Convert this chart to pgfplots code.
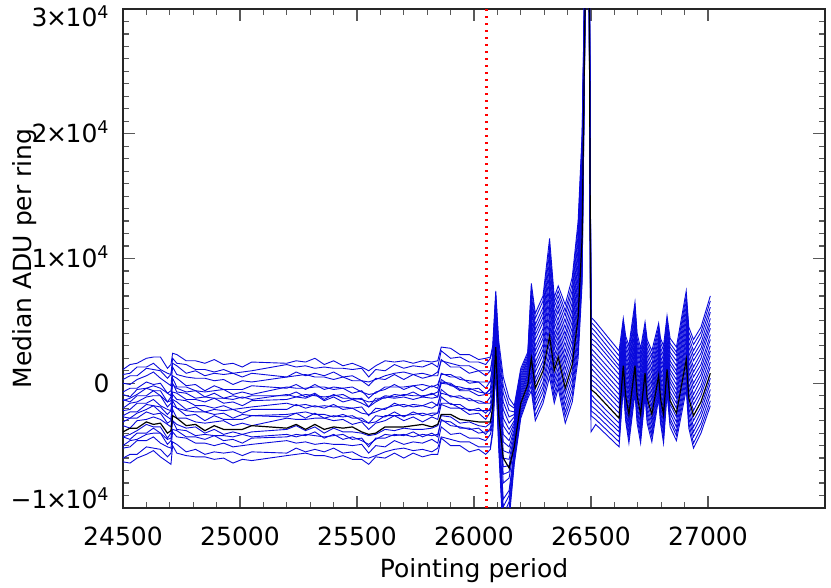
\documentclass[border=0pt]{standalone}
\usepackage{fontspec}
\setmainfont{DejaVu Sans}
\usepackage{pgfplots}
\pgfplotsset{compat=1.18}
\usepackage{pgfplotstable}

\definecolor{ringblue}{RGB}{10,10,220}
\definecolor{tickgray}{gray}{0.35}
\newcommand{\tenfour}[1]{#1\kern-0.7pt×\kern-0.7pt10\textsuperscript{4}}

% median ADU per ring, in units of 1000 ADU; b1..b20 = rings, k = highlighted ring
\pgfplotstableread{
x b1 b2 b3 b4 b5 b6 b7 b8 b9 b10 b11 b12 b13 b14 b15 b16 b17 b18 b19 b20 k
24500 1.1 0.7 0.3 0.0 -0.7 -0.9 -1.4 -1.3 -2.0 -2.2 -2.6 -2.7 -3.1 -3.4 -4.3 -4.3 -5.0 -5.2 -6.0 -6.3 -3.9
24530 1.5 0.8 0.6 -0.1 -0.4 -1.1 -1.2 -1.5 -1.6 -2.1 -2.3 -2.8 -2.8 -3.6 -4.1 -4.5 -4.6 -5.1 -5.7 -6.4 -3.6
24560 1.6 1.3 0.6 0.3 -0.4 -0.5 -0.9 -1.0 -1.5 -1.6 -2.3 -2.4 -2.8 -3.0 -3.8 -4.0 -4.5 -4.6 -5.7 -6.0 -3.6
24600 2.0 1.3 1.2 0.6 0.1 -0.4 -0.4 -1.0 -1.1 -1.6 -1.7 -2.1 -2.3 -2.9 -3.3 -4.0 -4.1 -4.6 -5.1 -5.7 -3.1
24630 2.1 1.6 1.1 0.9 -0.1 -0.2 -0.6 -0.6 -1.0 -1.3 -1.8 -1.8 -2.5 -2.7 -3.5 -3.6 -4.0 -4.3 -5.2 -5.4 -3.3
24660 2.1 1.1 1.0 0.4 0.0 -0.4 -0.6 -1.0 -1.0 -1.8 -1.9 -2.3 -2.4 -2.9 -3.5 -4.0 -4.0 -4.8 -5.3 -5.9 -3.2
24690 1.2 0.8 0.4 0.0 -0.8 -0.8 -1.5 -1.5 -1.9 -2.1 -2.5 -2.7 -3.2 -3.3 -4.4 -4.5 -4.9 -5.1 -5.9 -6.3 -4.0
24705 1.5 0.7 0.7 -0.2 -0.6 -1.0 -1.1 -1.4 -1.6 -2.2 -2.2 -2.9 -3.0 -3.5 -4.0 -4.4 -4.6 -5.2 -5.6 -6.5 -3.8
24712 2.4 2.0 1.6 1.3 0.6 0.4 -0.1 0.0 -0.7 -0.9 -1.3 -1.4 -1.8 -2.1 -3.0 -3.0 -3.7 -3.9 -4.7 -5.0 -2.6
24730 2.3 1.6 1.4 0.7 0.4 -0.3 -0.4 -0.7 -0.8 -1.3 -1.5 -2.0 -2.0 -2.8 -3.3 -3.7 -3.8 -4.3 -4.9 -5.6 -2.8
24770 1.8 1.5 0.8 0.5 -0.2 -0.3 -0.7 -0.8 -1.3 -1.4 -2.1 -2.2 -2.6 -2.8 -3.6 -3.8 -4.3 -4.4 -5.5 -5.8 -3.4
24810 1.8 1.1 1.0 0.4 -0.1 -0.6 -0.6 -1.2 -1.3 -1.8 -1.9 -2.3 -2.5 -3.1 -3.5 -4.2 -4.3 -4.8 -5.3 -5.9 -3.3
24850 1.6 1.1 0.6 0.4 -0.6 -0.7 -1.1 -1.1 -1.5 -1.8 -2.3 -2.3 -3.0 -3.2 -4.0 -4.1 -4.5 -4.8 -5.7 -5.9 -3.8
24890 1.9 0.9 0.8 0.2 -0.2 -0.6 -0.8 -1.2 -1.2 -2.0 -2.1 -2.5 -2.6 -3.1 -3.7 -4.2 -4.2 -5.0 -5.5 -6.1 -3.4
24930 1.5 1.1 0.7 0.3 -0.5 -0.5 -1.2 -1.2 -1.6 -1.8 -2.2 -2.4 -2.9 -3.0 -4.1 -4.2 -4.6 -4.8 -5.6 -6.0 -3.7
24970 1.6 0.8 0.8 -0.1 -0.5 -0.9 -1.0 -1.3 -1.5 -2.1 -2.1 -2.8 -2.9 -3.4 -3.9 -4.3 -4.5 -5.1 -5.5 -6.4 -3.7
25010 1.3 0.9 0.5 0.2 -0.5 -0.7 -1.2 -1.1 -1.8 -2.0 -2.4 -2.5 -2.9 -3.2 -4.1 -4.1 -4.8 -5.0 -5.8 -6.1 -3.7
25050 1.7 1.0 0.8 0.1 -0.2 -0.9 -1.0 -1.3 -1.4 -1.9 -2.1 -2.6 -2.6 -3.4 -3.9 -4.3 -4.4 -4.9 -5.5 -6.2 -3.4
25200 1.6 1.5 0.5 0.5 -0.4 -0.3 -1.0 -0.9 -1.3 -1.6 -2.1 -2.5 -2.7 -2.8 -3.7 -4.1 -4.3 -4.6 -5.6 -5.8 -3.6
25240 1.8 1.3 0.9 0.6 -0.1 -0.4 -0.7 -1.1 -1.1 -1.8 -1.7 -2.4 -2.4 -2.9 -3.4 -4.3 -4.1 -4.8 -5.2 -5.7 -3.3
25280 1.7 1.4 0.6 0.7 -0.5 -0.4 -1.1 -0.9 -1.2 -1.7 -2.0 -2.3 -2.8 -2.9 -3.8 -4.1 -4.2 -4.7 -5.5 -5.6 -3.7
25320 2.0 1.2 0.8 0.5 -0.1 -0.3 -0.8 -1.0 -0.9 -1.9 -1.8 -2.5 -2.4 -2.8 -3.5 -4.2 -3.9 -4.9 -5.3 -5.8 -3.3
25360 1.5 1.3 0.6 0.5 -0.5 -0.3 -1.3 -1.1 -1.4 -1.8 -2.0 -2.5 -2.8 -2.8 -4.0 -4.3 -4.4 -4.8 -5.5 -5.8 -3.7
25400 1.8 1.2 0.9 0.3 -0.3 -0.5 -0.9 -1.0 -1.1 -1.9 -1.7 -2.7 -2.6 -3.0 -3.6 -4.2 -4.1 -4.9 -5.2 -6.0 -3.5
25440 1.4 1.2 0.5 0.5 -0.4 -0.4 -1.2 -0.9 -1.5 -1.9 -2.1 -2.5 -2.7 -2.9 -3.9 -4.1 -4.5 -4.9 -5.6 -5.8 -3.6
25480 1.6 1.1 0.6 0.2 -0.3 -0.8 -1.2 -1.3 -1.3 -2.0 -2.0 -2.8 -2.6 -3.3 -3.9 -4.5 -4.3 -5.0 -5.5 -6.1 -3.5
25520 1.3 1.2 0.2 0.2 -0.7 -0.6 -1.3 -1.2 -1.6 -1.9 -2.4 -2.8 -3.0 -3.1 -4.0 -4.4 -4.6 -4.9 -5.9 -6.1 -3.9
25550 1.0 0.5 0.1 -0.2 -0.9 -1.2 -1.5 -1.9 -1.9 -2.6 -2.5 -3.2 -3.2 -3.7 -4.2 -5.1 -4.9 -5.6 -6.0 -6.5 -4.1
25580 1.4 1.1 0.3 0.4 -0.8 -0.7 -1.4 -1.2 -1.5 -2.0 -2.3 -2.6 -3.1 -3.2 -4.1 -4.4 -4.5 -5.0 -5.8 -5.9 -4.0
25620 1.8 1.0 0.6 0.3 -0.3 -0.5 -1.0 -1.2 -1.1 -2.1 -2.0 -2.7 -2.6 -3.0 -3.7 -4.4 -4.1 -5.1 -5.5 -6.0 -3.5
25660 1.7 1.5 0.8 0.7 -0.3 -0.1 -1.1 -0.9 -1.2 -1.6 -1.8 -2.3 -2.6 -2.6 -3.8 -4.1 -4.2 -4.6 -5.3 -5.6 -3.5
25700 1.8 1.2 0.9 0.3 -0.3 -0.5 -0.9 -1.0 -1.1 -1.9 -1.7 -2.7 -2.6 -3.0 -3.6 -4.2 -4.1 -4.9 -5.2 -6.0 -3.5
25740 1.6 1.4 0.7 0.7 -0.2 -0.2 -1.0 -0.7 -1.3 -1.7 -1.9 -2.3 -2.5 -2.7 -3.7 -3.9 -4.3 -4.7 -5.4 -5.6 -3.4
25780 1.8 1.3 0.8 0.4 -0.1 -0.6 -1.0 -1.1 -1.1 -1.8 -1.8 -2.6 -2.4 -3.1 -3.7 -4.3 -4.1 -4.8 -5.3 -5.9 -3.3
25820 1.7 1.6 0.6 0.6 -0.3 -0.2 -0.9 -0.8 -1.2 -1.5 -2.0 -2.4 -2.6 -2.7 -3.6 -4.0 -4.2 -4.5 -5.5 -5.7 -3.5
25845 1.8 1.3 0.9 0.6 -0.1 -0.4 -0.7 -1.1 -1.1 -1.8 -1.7 -2.4 -2.4 -2.9 -3.4 -4.3 -4.1 -4.8 -5.2 -5.7 -3.3
25860 2.9 2.6 1.8 1.9 0.7 0.8 0.1 0.3 0.0 -0.5 -0.8 -1.1 -1.6 -1.7 -2.6 -2.9 -3.0 -3.5 -4.3 -4.4 -2.5
25900 2.8 2.0 1.6 1.3 0.7 0.5 0.0 -0.2 -0.1 -1.1 -1.0 -1.7 -1.6 -2.0 -2.7 -3.4 -3.1 -4.1 -4.5 -5.0 -2.5
25940 2.3 2.1 1.4 1.3 0.3 0.5 -0.5 -0.3 -0.6 -1.0 -1.2 -1.7 -2.0 -2.0 -3.2 -3.5 -3.6 -4.0 -4.7 -5.0 -2.9
25980 2.3 1.7 1.4 0.8 0.2 0.0 -0.4 -0.5 -0.6 -1.4 -1.2 -2.2 -2.1 -2.5 -3.1 -3.7 -3.6 -4.4 -4.7 -5.5 -3.0
26020 1.9 1.7 1.0 1.0 0.1 0.1 -0.7 -0.4 -1.0 -1.4 -1.6 -2.0 -2.2 -2.4 -3.4 -3.6 -4.0 -4.4 -5.1 -5.3 -3.1
26050 2.0 1.5 1.0 0.6 0.1 -0.4 -0.8 -0.9 -0.9 -1.6 -1.6 -2.4 -2.2 -2.9 -3.5 -4.1 -3.9 -4.6 -5.1 -5.7 -3.1
26070 2.1 2.0 1.0 1.0 0.1 0.2 -0.5 -0.4 -0.8 -1.1 -1.6 -2.0 -2.2 -2.3 -3.2 -3.6 -3.8 -4.1 -5.1 -5.3 -3.1
26080 3.0 2.7 2.3 2.0 1.6 1.3 0.9 0.6 0.2 -0.2 -0.5 -0.9 -1.2 -1.6 -2.3 -2.6 -3.0 -3.3 -3.7 -4.0 -1.9
26093 7.4 7.1 6.8 6.4 6.1 5.8 5.5 5.2 4.8 4.5 4.2 3.9 3.6 3.2 2.6 2.3 2.0 1.6 1.3 1.0 2.9
26105 3.5 3.1 2.7 2.2 1.8 1.4 1.0 0.5 0.1 -0.3 -0.8 -1.2 -1.6 -2.0 -2.9 -3.3 -3.7 -4.2 -4.6 -5.0 -2.5
26125 0.5 -0.2 -0.8 -1.5 -2.1 -2.8 -3.4 -4.1 -4.7 -5.4 -6.0 -6.7 -7.3 -8.0 -9.3 -9.9 -10.6 -11.2 -11.9 -12.5 -6.0
26150 -1.2 -1.7 -2.2 -2.7 -3.2 -3.7 -4.1 -4.6 -5.1 -5.6 -6.1 -6.6 -7.1 -7.6 -8.6 -9.0 -9.5 -10.0 -10.5 -11.0 -6.8
26172 -1.8 -2.0 -2.3 -2.5 -2.7 -3.0 -3.2 -3.4 -3.7 -3.9 -4.2 -4.4 -4.6 -4.9 -5.3 -5.6 -5.8 -6.0 -6.3 -6.5 -5.1
26200 1.2 1.0 0.8 0.6 0.4 0.2 0.0 -0.2 -0.4 -0.6 -0.8 -1.0 -1.2 -1.4 -1.8 -2.0 -2.2 -2.4 -2.6 -2.8 -1.6
26230 2.5 2.3 2.1 1.9 1.8 1.6 1.4 1.2 1.0 0.8 0.7 0.5 0.3 0.1 -0.3 -0.5 -0.6 -0.8 -1.0 -1.2 -0.1
26245 8.0 7.6 7.1 6.7 6.3 5.9 5.4 5.0 4.6 4.1 3.7 3.3 2.8 2.4 1.6 1.1 0.7 0.3 -0.2 -0.6 2.0
26262 5.6 5.2 4.7 4.3 3.9 3.5 3.0 2.6 2.2 1.7 1.3 0.9 0.4 0.0 -0.9 -1.3 -1.7 -2.1 -2.6 -3.0 -0.4
26295 7.0 6.6 6.1 5.7 5.3 4.9 4.4 4.0 3.6 3.1 2.7 2.3 1.8 1.4 0.6 0.1 -0.3 -0.7 -1.2 -1.6 1.0
26323 11.6 11.0 10.5 9.9 9.4 8.8 8.3 7.7 7.2 6.6 6.1 5.5 4.9 4.4 3.3 2.7 2.2 1.6 1.1 0.5 3.8
26343 6.9 6.5 6.1 5.6 5.2 4.8 4.4 3.9 3.5 3.1 2.7 2.2 1.8 1.4 0.5 0.1 -0.3 -0.8 -1.2 -1.6 1.0
26360 7.8 7.4 7.0 6.6 6.2 5.8 5.3 4.9 4.5 4.1 3.7 3.3 2.9 2.5 1.7 1.2 0.8 0.4 0.0 -0.4 2.1
26390 6.3 5.8 5.4 4.9 4.4 3.9 3.5 3.0 2.5 2.0 1.6 1.1 0.6 0.1 -0.8 -1.3 -1.8 -2.3 -2.7 -3.2 -0.4
26420 8.5 8.0 7.5 7.0 6.5 6.0 5.5 5.0 4.5 4.0 3.5 3.0 2.5 2.0 1.0 0.5 0.0 -0.5 -1.0 -1.5 1.5
26445 13.0 12.5 11.9 11.4 10.8 10.3 9.7 9.2 8.6 8.1 7.5 7.0 6.4 5.9 4.8 4.2 3.7 3.1 2.6 2.0 5.3
26462 20.0 19.4 18.8 18.2 17.6 17.0 16.4 15.8 15.2 14.6 14.0 13.4 12.8 12.2 11.0 10.4 9.8 9.2 8.6 8.0 11.6
26476 36.0 35.8 35.5 35.3 35.0 34.8 34.5 34.3 34.0 33.8 33.5 33.3 33.0 32.8 32.3 32.0 31.8 31.5 31.3 31.0 32.5
26492 38.0 37.7 37.4 37.1 36.8 36.5 36.2 35.9 35.6 35.3 35.0 34.7 34.4 34.1 33.5 33.2 32.9 32.6 32.3 32.0 33.8
26500 5.3 4.9 4.5 4.1 3.6 3.2 2.8 2.4 2.0 1.6 1.2 0.7 0.3 -0.1 -0.9 -1.3 -1.8 -2.2 -2.6 -3.9 -0.5
26520 4.9 4.5 4.1 3.7 3.3 2.9 2.4 2.0 1.6 1.2 0.8 0.4 0.0 -0.4 -1.3 -1.7 -2.1 -2.5 -2.9 -3.3 -0.8
26620 2.6 2.2 1.8 1.4 1.1 0.7 0.3 -0.1 -0.5 -0.9 -1.3 -1.6 -2.0 -2.4 -3.2 -3.6 -3.9 -4.3 -4.7 -5.1 -2.8
26638 5.2 4.9 4.7 4.4 4.1 3.8 3.6 3.3 3.0 2.7 2.5 2.2 1.9 1.6 1.1 0.8 0.5 0.3 0.0 -0.3 1.4
26648 3.8 3.5 3.1 2.8 2.4 2.1 1.8 1.4 1.1 0.7 0.4 0.1 -0.3 -0.6 -1.3 -1.6 -2.0 -2.3 -2.7 -3.0 -1.0
26662 3.0 2.6 2.2 1.8 1.4 1.1 0.7 0.3 -0.1 -0.5 -0.9 -1.3 -1.7 -2.1 -2.9 -3.2 -3.6 -4.0 -4.4 -4.8 -2.5
26688 6.5 6.1 5.8 5.4 5.0 4.7 4.3 3.9 3.6 3.2 2.9 2.5 2.1 1.8 1.0 0.7 0.3 -0.1 -0.4 -0.8 1.4
26697 4.0 3.6 3.3 2.9 2.6 2.2 1.8 1.5 1.1 0.8 0.4 0.0 -0.3 -0.7 -1.4 -1.8 -2.1 -2.5 -2.8 -3.2 -1.0
26712 2.8 2.4 2.0 1.7 1.3 0.9 0.5 0.1 -0.2 -0.6 -1.0 -1.4 -1.8 -2.1 -2.9 -3.3 -3.7 -4.0 -4.4 -4.8 -2.5
26731 4.9 4.6 4.3 4.0 3.7 3.4 3.1 2.8 2.5 2.2 2.0 1.7 1.4 1.1 0.5 0.2 -0.1 -0.4 -0.7 -1.0 0.8
26740 3.5 3.2 2.8 2.5 2.2 1.8 1.5 1.2 0.8 0.5 0.2 -0.2 -0.5 -0.9 -1.5 -1.9 -2.2 -2.5 -2.9 -3.2 -1.2
26760 2.6 2.2 1.9 1.5 1.1 0.8 0.4 0.0 -0.3 -0.7 -1.1 -1.4 -1.8 -2.1 -2.9 -3.2 -3.6 -4.0 -4.3 -4.7 -2.5
26789 4.8 4.5 4.2 3.9 3.6 3.3 3.0 2.7 2.4 2.1 1.8 1.5 1.2 0.9 0.3 0.0 -0.3 -0.6 -0.9 -1.2 0.6
26797 3.6 3.3 2.9 2.6 2.2 1.9 1.6 1.2 0.9 0.5 0.2 -0.1 -0.5 -0.8 -1.5 -1.8 -2.2 -2.5 -2.9 -3.2 -1.2
26810 3.0 2.6 2.2 1.8 1.4 1.1 0.7 0.3 -0.1 -0.5 -0.9 -1.3 -1.7 -2.1 -2.9 -3.2 -3.6 -4.0 -4.4 -4.8 -2.5
26825 5.4 5.1 4.8 4.5 4.2 3.9 3.5 3.2 2.9 2.6 2.3 2.0 1.7 1.4 0.8 0.4 0.1 -0.2 -0.5 -0.8 1.1
26838 3.6 3.2 2.9 2.5 2.2 1.8 1.5 1.1 0.8 0.4 0.1 -0.3 -0.7 -1.0 -1.7 -2.1 -2.4 -2.8 -3.1 -3.5 -1.4
26865 2.9 2.5 2.2 1.8 1.4 1.0 0.7 0.3 -0.1 -0.5 -0.9 -1.2 -1.6 -2.0 -2.7 -3.1 -3.5 -3.9 -4.2 -4.6 -2.4
26907 7.4 7.0 6.6 6.2 5.8 5.4 5.0 4.6 4.2 3.8 3.5 3.1 2.7 2.3 1.5 1.1 0.7 0.3 -0.1 -0.5 1.9
26918 4.5 4.1 3.7 3.3 2.9 2.5 2.1 1.7 1.3 0.9 0.5 0.0 -0.4 -0.8 -1.6 -2.0 -2.4 -2.8 -3.2 -3.6 -1.2
26938 3.5 3.1 2.6 2.2 1.8 1.3 0.9 0.5 0.0 -0.4 -0.9 -1.3 -1.7 -2.2 -3.0 -3.5 -3.9 -4.3 -4.8 -5.2 -2.6
26970 4.5 4.1 3.7 3.2 2.8 2.4 2.0 1.5 1.1 0.7 0.3 -0.2 -0.6 -1.0 -1.9 -2.3 -2.7 -3.2 -3.6 -4.0 -1.5
27010 7.0 6.6 6.1 5.7 5.2 4.8 4.4 3.9 3.5 3.0 2.6 2.2 1.7 1.3 0.4 0.0 -0.5 -0.9 -1.4 -1.8 0.8
}\adu

\begin{document}
\begin{tikzpicture}[font=\fontsize{12.5}{15}\selectfont]
\useasboundingbox (-61.5pt,-40pt) rectangle (354pt,254pt);
\begin{axis}[
  at={(0pt,0pt)}, anchor=south west,
  scale only axis, width=351pt, height=249.5pt,
  xmin=24500, xmax=27500, ymin=-10, ymax=30,
  xtick={24500,25000,25500,26000,26500,27000},
  xticklabels={24500,25000,25500,26000,26500,27000},
  minor x tick num=4,
  ytick={-10,0,10,20,30},
  yticklabels={\raisebox{4pt}{\tenfour{−1}},0,\tenfour{1},\tenfour{2},\raisebox{-4.5pt}{\tenfour{3}}},
  minor y tick num=9,
  scaled ticks=false,
  tick align=inside,
  major tick length=6pt, minor tick length=3pt,
  axis line style={black!85, line width=0.6pt},
  tick style={tickgray, line width=0.6pt},
  xticklabel style={anchor=base, inner sep=0pt, yshift=-19pt},
  yticklabel style={anchor=base east, inner sep=0pt, xshift=-6.5pt, yshift=-4.4pt},
  xlabel={Pointing period},
  ylabel={Median ADU per ring},
  x label style={at={(axis description cs:0.5,-0.1383)}, anchor=base, inner sep=0pt},
  y label style={at={(axis description cs:-0.131,0.5)}, anchor=base, inner sep=0pt},
]
\pgfplotsinvokeforeach{1,...,20}{
  \addplot[ringblue, line width=0.45pt] table[x=x, y=b#1] {\adu};
}
\addplot[black, line width=0.6pt] table[x=x, y=k] {\adu};
\addplot[red, line width=1.5pt, dash pattern=on 1pt off 2.5pt] coordinates {(26055,-10) (26055,30)};
\end{axis}
\end{tikzpicture}
\end{document}
